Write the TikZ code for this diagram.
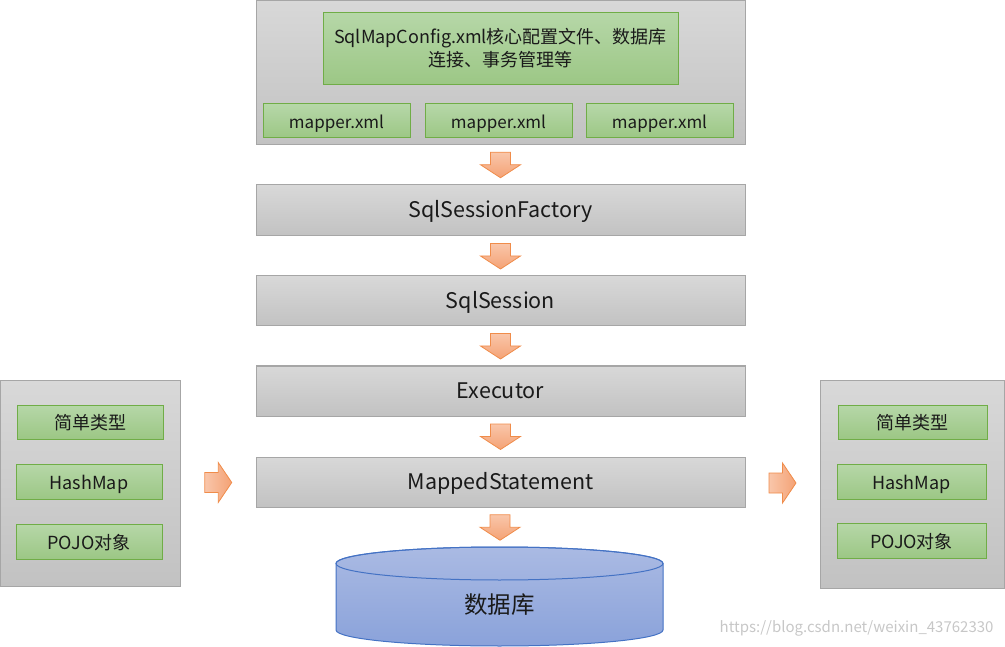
\documentclass[tikz,border=0pt]{standalone}
\usepackage{fontspec}
\setmainfont{Noto Sans CJK SC}
\usetikzlibrary{calc}
\definecolor{grayT}{HTML}{D8D8D8}
\definecolor{grayB}{HTML}{C2C2C2}
\definecolor{grayL}{HTML}{A6A6A6}
\definecolor{greenT}{HTML}{B6D7A8}
\definecolor{greenB}{HTML}{9CC785}
\definecolor{greenL}{HTML}{70AD47}
\definecolor{orT}{HTML}{F9C6AA}
\definecolor{orB}{HTML}{F4A275}
\definecolor{orL}{HTML}{F08C4A}
\definecolor{blT}{HTML}{AABAE3}
\definecolor{blB}{HTML}{8AA2DA}
\definecolor{blL}{HTML}{4472C4}
\definecolor{txt}{HTML}{1A1A1A}
\tikzset{
  graybox/.style={draw=grayL, line width=1pt, top color=grayT, bottom color=grayB, text=txt},
  tfix/.style={text height=1.7em, text depth=0.2em},
  greenbox/.style={draw=greenL, line width=1pt, top color=greenT, bottom color=greenB, text=txt, font=\fontsize{17}{20}\selectfont, tfix},
  sidebox/.style={greenbox, font=\fontsize{18}{21}\selectfont},
  blockarr/.style={draw=orL, line width=0.8pt, top color=orT, bottom color=orB},
  blockarrh/.style={draw=orL, line width=0.8pt, left color=orT, right color=orB},
  boxlabel/.style={text=txt, font=\fontsize{21.5}{25}\selectfont, tfix},
}
\newcommand\downblock[2]{%
  \begin{scope}[shift={($(#1.south)!0.5!(#2)$)}]
    \draw[blockarr] (-10,-12.5)--(10,-12.5)--(10,0)--(20,0)--(0,13)--(-20,0)--(-10,0)--cycle;
  \end{scope}}
\newcommand\rightblock[2]{%
  \begin{scope}[shift={($(#1.east)!0.5!(#2.west)$)}]
    \draw[blockarrh] (-13.5,-10)--(0,-10)--(0,-20)--(13.5,0)--(0,20)--(0,10)--(-13.5,10)--cycle;
  \end{scope}}
\begin{document}
\begin{tikzpicture}[x=1pt,y=-1pt]
\useasboundingbox (0,0) rectangle (1005,647);
% top config box
\path[graybox] (256,0.5) rectangle (745,145);
\node[coordinate] (top) at (500.5,145) {};
\node[draw=greenL, line width=1pt, top color=greenT, bottom color=greenB, text=txt, minimum width=355pt, minimum height=72pt, align=center, font=\fontsize{18}{23}\selectfont] (cfg) at (500.5,48.5)
  {SqlMapConfig.xml核心配置文件、数据库\\连接、事务管理等};
\node[greenbox, minimum width=147pt, minimum height=34pt] (m1) at (336.5,121) {mapper.xml};
\node[greenbox, minimum width=147pt, minimum height=34pt] (m2) at (498.5,121) {mapper.xml};
\node[greenbox, minimum width=147pt, minimum height=34pt] (m3) at (659.5,121) {mapper.xml};
% main column
\node[graybox, boxlabel, minimum width=489pt, minimum height=51pt] (ssf) at (500.5,210.5) {SqlSessionFactory};
\node[graybox, boxlabel, minimum width=489pt, minimum height=50pt] (ss) at (500.5,301) {SqlSession};
\node[graybox, boxlabel, minimum width=489pt, minimum height=50pt] (ex) at (500.5,391) {Executor};
\node[graybox, boxlabel, minimum width=489pt, minimum height=50pt] (ms) at (500.5,482) {MappedStatement};
% database cylinder
\path[draw=blL, line width=1pt, top color=blT, bottom color=blB]
  (336,563.5) -- (336,630) arc[start angle=180, end angle=360, x radius=163.5pt, y radius=16pt]
  -- (663,563.5) arc[start angle=0, end angle=180, x radius=163.5pt, y radius=16.5pt] -- cycle;
\draw[blL, line width=1pt] (499.5,563.5) ellipse [x radius=163.5pt, y radius=16.5pt];
\node[coordinate] (dbtop) at (499.5,547) {};
\node[text=txt, font=\fontsize{23.5}{27}\selectfont, tfix] (db) at (499.5,606) {数据库};
% block arrows down
\downblock{top}{ssf.north}
\downblock{ssf}{ss.north}
\downblock{ss}{ex.north}
\downblock{ex}{ms.north}
\downblock{ms}{dbtop}
% left input box
\node[graybox, minimum width=180pt, minimum height=206pt] (inp) at (90.5,483) {};
\node[sidebox, minimum width=146pt, minimum height=34pt] (i1) at (90,422) {简单类型};
\node[sidebox, minimum width=146pt, minimum height=35pt] (i2) at (89,481.5) {HashMap};
\node[sidebox, minimum width=146pt, minimum height=35pt] (i3) at (89,541.5) {POJO对象};
% right output box
\node[graybox, minimum width=184pt, minimum height=208pt] (out) at (912,484) {};
\node[sidebox, minimum width=149pt, minimum height=34pt] (o1) at (912.5,422) {简单类型};
\node[sidebox, minimum width=149pt, minimum height=35pt] (o2) at (911.5,481.5) {HashMap};
\node[sidebox, minimum width=149pt, minimum height=35pt] (o3) at (911.5,540.5) {POJO对象};
% side block arrows
\rightblock{inp}{ms}
\rightblock{ms}{out}
% watermark
\node[text=black!22, font=\fontsize{15}{18}\selectfont, anchor=east] (wm) at (997,628) {https://blog.csdn.net/weixin\_43762330};
\end{tikzpicture}
\end{document}
